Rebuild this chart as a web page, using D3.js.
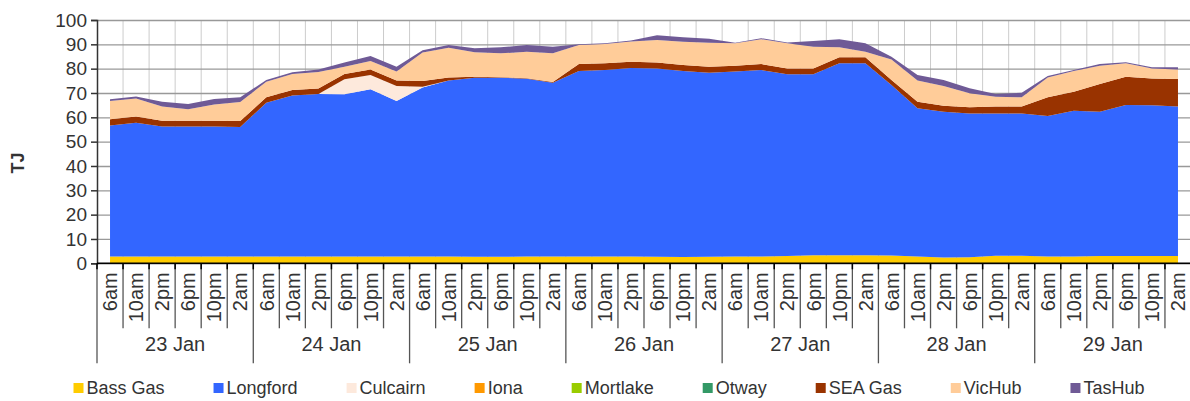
<!DOCTYPE html>
<html>
<head>
<meta charset="utf-8">
<script src="https://cdn.jsdelivr.net/npm/d3@7"></script>
<style>
  body { margin: 0; background: #fff; }
  text { font-family: "Liberation Sans", Arial, sans-serif; fill: #333; }
</style>
</head>
<body>
<div id="chart"></div>
<script>
// categories
const days = ["23 Jan", "24 Jan", "25 Jan", "26 Jan", "27 Jan", "28 Jan", "29 Jan"];
const hours = ["6am", "10am", "2pm", "6pm", "10pm", "2am"];
const yTicks = [0, 10, 20, 30, 40, 50, 60, 70, 80, 90, 100];

const seriesNames = ["Bass Gas", "Longford", "Culcairn", "Iona", "Mortlake", "Otway", "SEA Gas", "VicHub", "TasHub"];
const seriesColors = ["#ffcc00", "#3366ff", "#fde9dc", "#ff9900", "#99cc00", "#339966", "#993300", "#ffcc99", "#6f5a96"];

// series values (TJ), one per 4-hour slot, 6 slots per day
const bassGas = [2.8, 2.8, 2.8, 2.8, 2.8, 2.8, 2.8, 2.8, 2.8, 2.8, 2.8, 2.8, 2.8, 2.8, 2.7, 2.7, 2.8, 2.8,
  2.8, 2.8, 2.8, 2.7, 2.6, 2.7, 2.8, 2.8, 3.0, 3.3, 3.3, 3.3, 3.2, 2.8, 2.4, 2.5, 3.1, 3.1, 2.8, 2.8, 3.0, 3.0, 3.0, 3.0];
const longford = [53.8, 55.0, 53.4, 53.4, 53.4, 53.2, 63.2, 66.2, 66.8, 66.7, 68.7, 63.9, 69.5, 72.3, 73.6, 73.6, 73.1, 71.4,
  76.2, 76.6, 77.5, 77.4, 76.4, 75.6, 76.0, 76.6, 74.7, 74.4, 78.9, 78.9, 70.1, 60.9, 59.9, 59.1, 58.5, 58.5, 57.7, 59.9, 59.3, 62.1, 62.0, 61.4];
const culcairn = [0, 0, 0, 0, 0, 0, 0, 0, 0, 6.1, 5.9, 6.2, 0.3, 0, 0, 0, 0, 0,
  0, 0, 0, 0, 0, 0, 0, 0, 0, 0, 0, 0, 0, 0, 0, 0, 0, 0, 0, 0, 0, 0, 0, 0];
const iona = [0, 0, 0, 0, 0, 0, 0, 0, 0, 0, 0, 0, 0, 0, 0, 0, 0, 0, 0, 0, 0, 0, 0, 0, 0, 0, 0, 0, 0, 0, 0, 0, 0, 0, 0, 0, 0, 0, 0, 0, 0, 0];
const mortlake = [0, 0, 0, 0, 0, 0, 0, 0, 0, 0, 0, 0, 0, 0, 0, 0, 0, 0, 0, 0, 0, 0, 0, 0, 0, 0, 0, 0, 0, 0, 0, 0, 0, 0, 0, 0, 0, 0, 0, 0, 0, 0];
const otway = [0, 0, 0, 0, 0, 0, 0, 0, 0, 0, 0, 0, 0, 0, 0, 0, 0, 0, 0, 0, 0, 0, 0, 0, 0, 0, 0, 0, 0, 0, 0, 0, 0, 0, 0, 0, 0, 0, 0, 0, 0, 0];
const seaGas = [2.6, 2.5, 2.4, 2.4, 2.4, 2.5, 2.2, 2.2, 2.2, 2.2, 2.3, 2.2, 2.3, 1.3, 0.4, 0.2, 0.2, 0.3,
  2.9, 2.8, 2.5, 2.4, 2.5, 2.5, 2.4, 2.5, 2.4, 2.4, 2.5, 2.5, 2.0, 2.7, 2.5, 2.5, 2.8, 2.8, 7.7, 7.8, 11.4, 11.6, 11.0, 11.3];
const vicHub = [7.5, 7.4, 5.8, 4.7, 6.7, 7.8, 6.4, 6.6, 6.8, 3.0, 3.4, 3.7, 11.7, 12.2, 10.0, 9.8, 10.8, 11.8,
  7.8, 7.9, 8.4, 9.3, 9.6, 9.9, 9.2, 10.2, 10.3, 8.9, 4.1, 2.3, 8.5, 8.7, 8.1, 5.8, 4.1, 3.8, 8.2, 8.5, 7.5, 5.5, 4.1, 4.0];
const tasHub = [0.7, 0.9, 2.0, 2.2, 2.2, 2.0, 0.7, 0.7, 1.1, 1.7, 2.1, 2.0, 1.0, 1.1, 1.7, 2.5, 2.8, 2.7,
  0.3, 0.3, 0.4, 1.9, 1.8, 1.6, 0.3, 0.4, 0.4, 2.4, 3.3, 3.4, 1.1, 2.3, 2.4, 2.0, 1.1, 1.9, 0.6, 0.4, 0.7, 0.4, 0.5, 0.9];

const seriesValues = [bassGas, longford, culcairn, iona, mortlake, otway, seaGas, vicHub, tasHub];

const width = 1190;
const height = 401;
const margin = {left: 97, right: -1, top: 20, bottom: 137.7};
const plotBottom = height - margin.bottom;

const svg = d3.select("#chart")
  .append("svg")
  .attr("width", width)
  .attr("height", height);

// table for the stack
const slots = d3.range(days.length * hours.length);
const table = slots.map(i => {
  const row = {i: i};
  seriesNames.forEach((name, k) => { row[name] = seriesValues[k][i]; });
  return row;
});

const xScale = d3.scaleBand()
  .domain(slots)
  .range([margin.left, width - margin.right])
  .padding(0);

const yScale = d3.scaleLinear()
  .domain([0, 100])
  .range([plotBottom, margin.top]);

const cx = i => xScale(i) + xScale.bandwidth() / 2;

// vertical gridlines at category boundaries
svg.append("g")
  .selectAll("line")
  .data(slots.slice(1))
  .enter()
  .append("line")
    .attr("x1", d => xScale(d))
    .attr("x2", d => xScale(d))
    .attr("y1", margin.top)
    .attr("y2", plotBottom)
    .attr("stroke", "#cccccc")
    .attr("stroke-width", 1);

// horizontal gridlines
svg.append("g")
  .attr("transform", `translate(${margin.left},0)`)
  .call(d3.axisLeft(yScale).tickValues(yTicks).tickSize(-(width - margin.right - margin.left)).tickFormat(""))
  .call(g => g.select(".domain").remove())
  .call(g => g.selectAll("line").attr("stroke", "#999999").attr("stroke-width", 1.3));

// stacked areas
const stack = d3.stack().keys(seriesNames);
const layers = stack(table);

const area = d3.area()
  .x((d, i) => cx(i))
  .y0(d => yScale(d[0]))
  .y1(d => yScale(d[1]));

svg.append("g")
  .selectAll("path")
  .data(layers)
  .enter()
  .append("path")
    .attr("d", area)
    .attr("fill", (d, k) => seriesColors[k]);

// y axis
svg.append("g")
  .attr("transform", `translate(${margin.left},0)`)
  .call(d3.axisLeft(yScale).tickValues(yTicks).tickSize(6).tickPadding(4))
  .call(g => g.select(".domain").attr("stroke", "#333").attr("stroke-width", 1.5))
  .call(g => g.selectAll(".tick line").attr("stroke", "#333").attr("stroke-width", 1.5))
  .call(g => g.selectAll("text").attr("font-size", "19px").style("fill", "#333"));

svg.append("text")
  .attr("transform", `translate(24,163) rotate(-90)`)
  .attr("text-anchor", "middle")
  .attr("font-size", "18px")
  .attr("font-weight", "bold")
  .text("TJ");

// x axis: hour labels
const xAxis = svg.append("g")
  .attr("transform", `translate(0,${plotBottom})`)
  .call(d3.axisBottom(xScale).tickSize(0).tickFormat(i => hours[i % hours.length]));

xAxis.select(".domain").remove();
xAxis.selectAll("text")
  .attr("font-size", "20px")
  .style("fill", "#333")
  .attr("text-anchor", "end")
  .attr("transform", "translate(0,9) rotate(-90)")
  .attr("x", 0)
  .attr("y", 0)
  .attr("dy", "0.36em");

// category boundary ticks
const boundaries = d3.range(slots.length + 1);
const bx = b => b < slots.length ? xScale(b) : xScale(slots.length - 1) + xScale.bandwidth();

svg.append("g")
  .selectAll("line")
  .data(boundaries)
  .enter()
  .append("line")
    .attr("x1", bx)
    .attr("x2", bx)
    .attr("y1", plotBottom)
    .attr("y2", b => b % hours.length === 0 ? plotBottom + 100 : plotBottom + 65)
    .attr("stroke", "#555")
    .attr("stroke-width", 1.3);

svg.append("g")
  .selectAll("line")
  .data(boundaries)
  .enter()
  .append("line")
    .attr("x1", bx)
    .attr("x2", bx)
    .attr("y1", plotBottom)
    .attr("y2", plotBottom + 6)
    .attr("stroke", "#000")
    .attr("stroke-width", 1.5);

// day labels
svg.append("g")
  .selectAll("text")
  .data(days)
  .enter()
  .append("text")
    .attr("x", (d, k) => (bx(k * hours.length) + bx((k + 1) * hours.length)) / 2)
    .attr("y", plotBottom + 88)
    .attr("text-anchor", "middle")
    .attr("font-size", "20px")
    .text(d => d);

// x axis line
svg.append("line")
  .attr("x1", margin.left)
  .attr("x2", width - margin.right)
  .attr("y1", plotBottom)
  .attr("y2", plotBottom)
  .attr("stroke", "#000")
  .attr("stroke-width", 1.5);

// legend
const legend = svg.append("g").attr("transform", "translate(0,388)");
let lx = 73.5;
seriesNames.forEach((name, k) => {
  legend.append("rect")
    .attr("x", lx)
    .attr("y", -5)
    .attr("width", 10)
    .attr("height", 10)
    .attr("fill", seriesColors[k]);
  const t = legend.append("text")
    .attr("x", lx + 13)
    .attr("y", 0)
    .attr("dy", "0.35em")
    .attr("font-size", "18px")
    .text(name);
  lx += 13 + t.node().getComputedTextLength() + 49;
});
</script>
</body>
</html>
